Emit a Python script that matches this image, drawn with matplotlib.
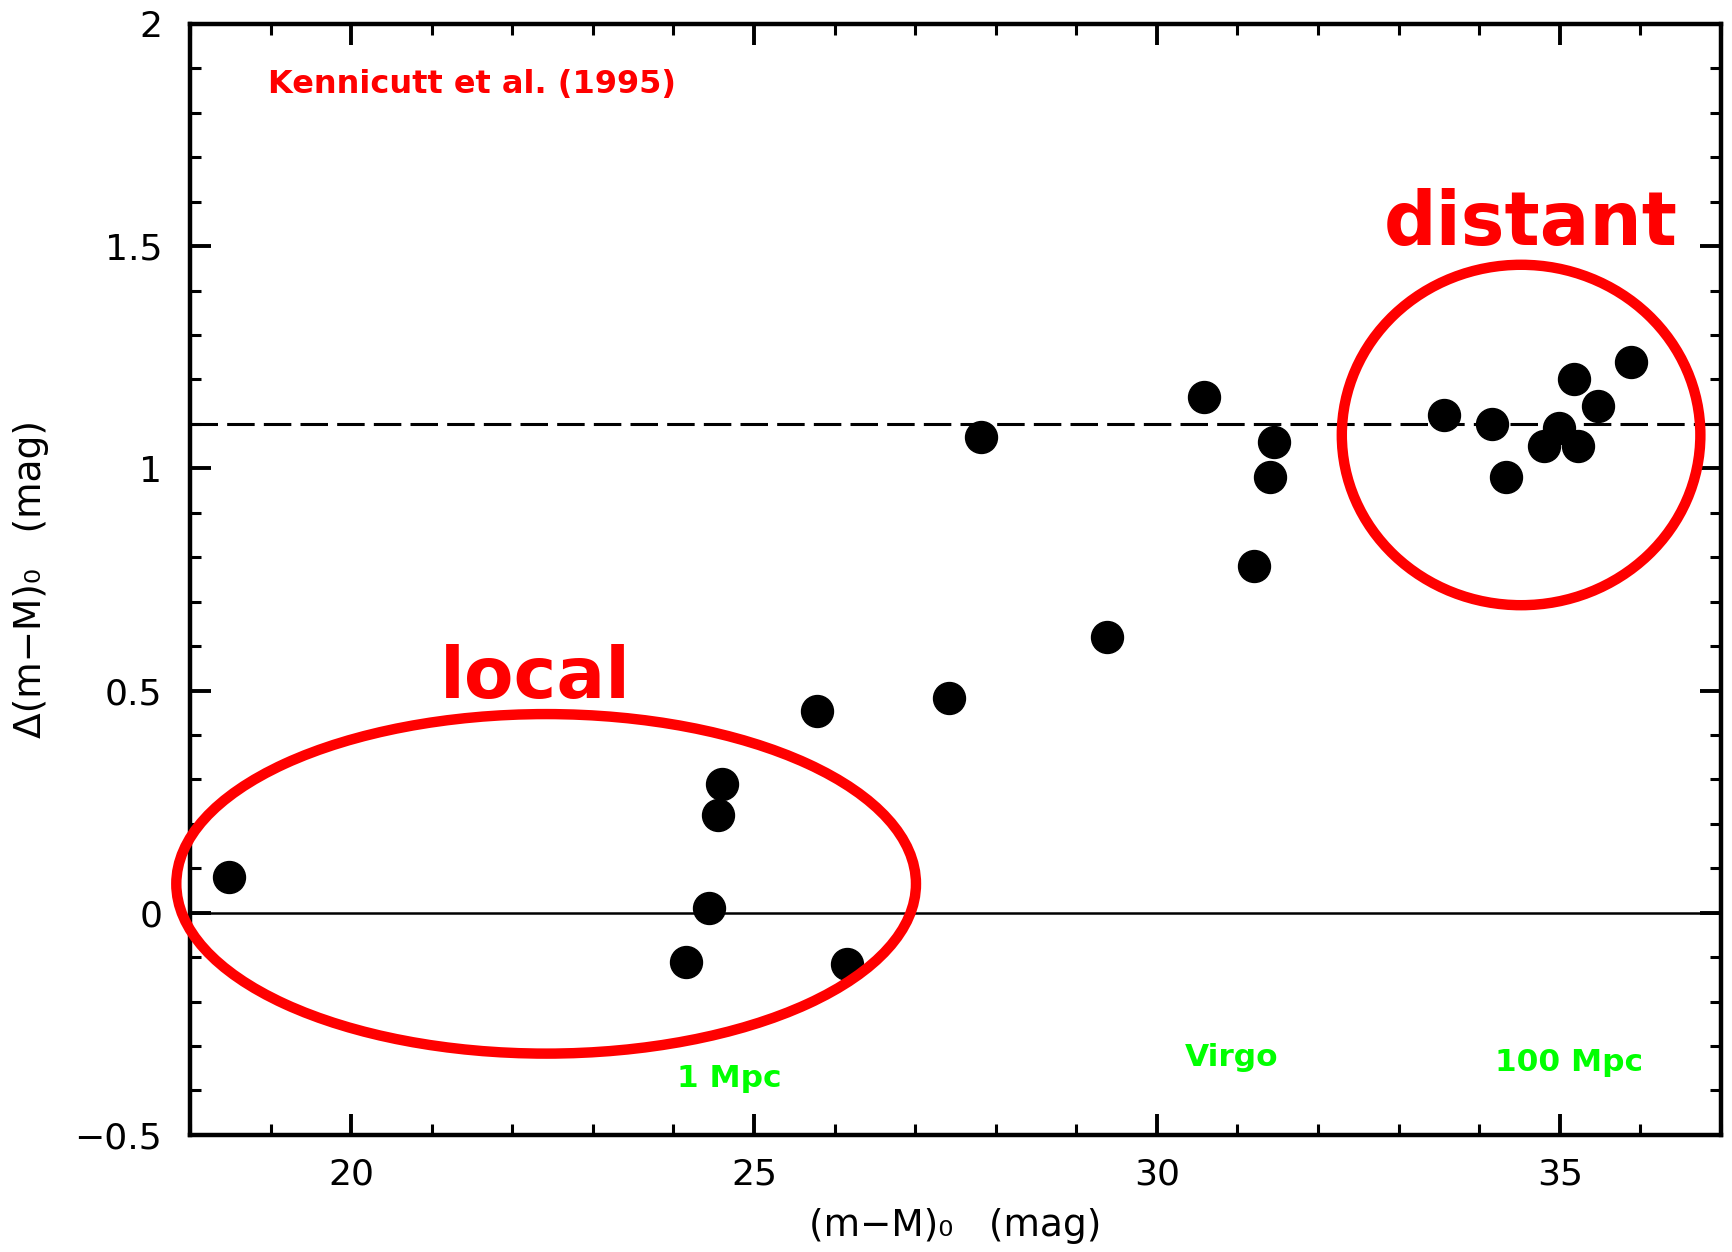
import numpy as np
import matplotlib
matplotlib.use("Agg")
import matplotlib.pyplot as plt
from matplotlib.patches import Ellipse
from matplotlib.ticker import MultipleLocator

# distance modulus (m-M)_0 and offset Delta(m-M)_0
dist_mod = [18.49, 24.16, 24.44, 24.55, 24.60, 26.15, 25.78, 27.42, 27.82,
            29.38, 30.59, 31.21, 31.40, 31.45, 33.56, 34.16, 34.33, 34.81,
            34.99, 35.23, 35.18, 35.48, 35.89]
delta_mod = [0.08, -0.11, 0.01, 0.22, 0.29, -0.115, 0.455, 0.483, 1.07,
             0.62, 1.16, 0.78, 0.98, 1.06, 1.12, 1.10, 0.98, 1.05,
             1.09, 1.05, 1.20, 1.14, 1.24]
mean_offset = 1.10

plt.rcParams['font.family'] = 'DejaVu Sans'

fig = plt.figure(figsize=(17.32, 12.52), dpi=100)
ax = fig.add_axes([0.1097, 0.0935, 0.8839, 0.8874])

ax.axhline(0, color='black', lw=1.8, zorder=1)
ax.axhline(mean_offset, color='black', lw=2.2, dashes=(9, 3), zorder=1)
ax.plot(dist_mod, delta_mod, 'o', color='black', ms=23, mec='black', zorder=3)

# hand-drawn style circles
local = Ellipse((22.42, 0.065), 9.18, 0.764, fill=False, ec='#ff0000',
                lw=7.5, clip_on=False, zorder=4)
distant = Ellipse((34.52, 1.075), 4.45, 0.766, fill=False, ec='#ff0000',
                  lw=7.5, clip_on=False, zorder=4)
ax.add_patch(local)
ax.add_patch(distant)

ax.text(18.97, 1.863, 'Kennicutt et al. (1995)', color='#ff0000',
        fontsize=23, fontweight='bold', va='center', ha='left')
ax.text(32.82, 1.502, 'distant', color='#ff0000', fontsize=53,
        fontweight='bold', va='baseline', ha='left')
ax.text(21.10, 0.483, 'local', color='#ff0000', fontsize=52,
        fontweight='bold', va='baseline', ha='left')
ax.text(24.05, -0.373, '1 Mpc', color='#00ff00', fontsize=22.5,
        fontweight='bold', va='center', ha='left')
ax.text(30.35, -0.326, 'Virgo', color='#00ff00', fontsize=22.5,
        fontweight='bold', va='center', ha='left')
ax.text(34.20, -0.338, '100 Mpc', color='#00ff00', fontsize=22.5,
        fontweight='bold', va='center', ha='left')

ax.set_xlim(18, 37)
ax.set_ylim(-0.5, 2)
ax.xaxis.set_major_locator(MultipleLocator(5))
ax.xaxis.set_minor_locator(MultipleLocator(1))
ax.yaxis.set_major_locator(MultipleLocator(0.5))
ax.yaxis.set_minor_locator(MultipleLocator(0.1))
ax.set_yticks([-0.5, 0, 0.5, 1, 1.5, 2])
ax.set_yticklabels(['\u22120.5', '0', '0.5', '1', '1.5', '2'])

ax.tick_params(which='both', direction='in', top=True, right=True,
               labelsize=26)
ax.tick_params(which='major', length=15, width=2.8)
ax.tick_params(which='minor', length=8, width=2.2)
ax.tick_params(axis='y', pad=20)
ax.tick_params(axis='x', pad=16)
for s in ax.spines.values():
    s.set_linewidth(3.2)

ax.set_xlabel('(m\u2212M)\u2080   (mag)', fontsize=27, labelpad=12)
ax.set_ylabel('\u0394(m\u2212M)\u2080   (mag)', fontsize=27, labelpad=18)

fig.savefig('out.png', dpi=100)
